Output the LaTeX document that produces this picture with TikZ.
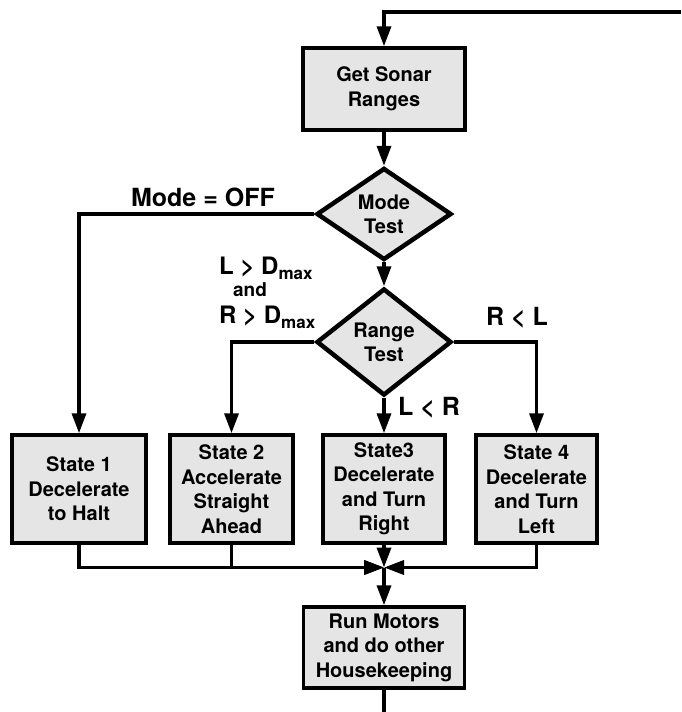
\documentclass[tikz,border=0pt]{standalone}
\usepackage{fontspec}
\setmainfont{TeX Gyre Heros}
\usetikzlibrary{arrows.meta,shapes.geometric}
\definecolor{boxgray}{HTML}{E5E5E5}
\begin{document}
\begin{tikzpicture}[x=1pt,y=-1pt,
  box/.style={draw, line width=3.5pt, fill=boxgray, inner sep=0pt, align=center,
    font=\fontsize{20}{24.5}\selectfont\bfseries, minimum height=108pt},
  dia/.style={draw, diamond, line width=4.5pt, fill=boxgray, inner sep=0pt, align=center,
    font=\fontsize{20}{24}\selectfont\bfseries, minimum width=135pt},
  conn/.style={line width=3.5pt},
  arr/.style={conn, -{Triangle[length=20pt,width=14pt]}},
  lbl/.style={font=\fontsize{25}{28}\selectfont\bfseries, inner sep=0pt},
  slbl/.style={font=\fontsize{24}{26}\selectfont\bfseries, inner sep=0pt}
]
\useasboundingbox (0,0) rectangle (681,712);

\node[box, minimum width=162pt, minimum height=82pt] (sonar) at (384,89) {Get Sonar\\Ranges};
\node[dia, minimum height=92pt, aspect=1.47] (mode) at (384,214) {Mode\\Test};
\node[dia, minimum height=107pt, aspect=1.26] (range) at (384,342) {Range\\Test};
\node[box, minimum width=134pt] (s1) at (79,489) {State 1\\Decelerate\\to Halt};
\node[box, minimum width=123pt] (s2) at (231.5,489) {State 2\\Accelerate\\Straight\\Ahead};
\node[box, minimum width=122pt] (s3) at (384,489) {State3\\Decelerate\\and Turn\\Right};
\node[box, minimum width=121pt] (s4) at (536.5,489) {State 4\\Decelerate\\and Turn\\Left};
\node[box, minimum width=161pt, minimum height=81pt] (run) at (384,647.5) {Run Motors\\and do other\\Housekeeping};

\coordinate (tr) at (681,12);
\coordinate (j) at (384,567.5);
\coordinate (bot) at (384,712);

\draw[arr] (tr) -| (sonar.north);
\draw[arr] (sonar.south) -- (mode.north);
\draw[arr] (mode.west) -| (s1.north);
\draw[arr] (mode.south) -- (range.north);
\draw[arr] (range.west) -| (s2.north);
\draw[arr] (range.east) -| (s4.north);
\draw[arr] (range.south) -- (s3.north);
\draw[arr] (s1.south) |- (j);
\draw[arr] (s2.south) |- (j);
\draw[arr] (s4.south) |- (j);
\draw[arr] (s3.south) -- (j);
\draw[arr] (j) -- (run.north);
\draw[conn] (run.south) -- (bot);

\node[lbl] (modeoff) at (203,197) {Mode = OFF};
\node[slbl, anchor=west] (lmax) at (219,268) {L > D\raisebox{-5pt}{\fontsize{17}{17}\selectfont max}};
\node[font=\fontsize{19}{20}\selectfont\bfseries, inner sep=0pt] (andl) at (250,290) {and};
\node[slbl, anchor=west] (rmax) at (219,317) {R > D\raisebox{-5pt}{\fontsize{17}{17}\selectfont max}};
\node[lbl] (rl) at (517,318) {R < L};
\node[lbl, anchor=west] (lr) at (398,408) {L < R};
\end{tikzpicture}
\end{document}
